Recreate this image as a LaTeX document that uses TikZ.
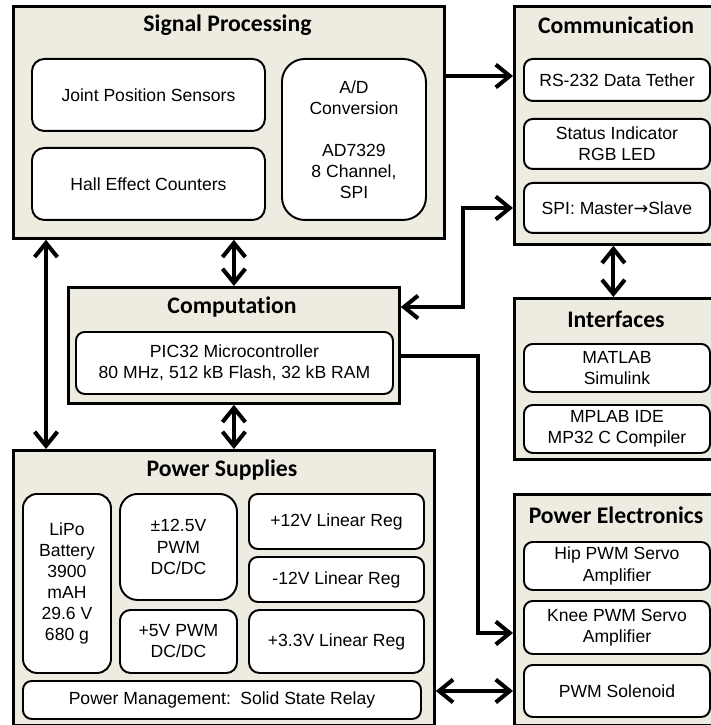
\documentclass[tikz,border=0pt]{standalone}
\usepackage{fontspec}
\setmainfont{Liberation Sans}
\newfontfamily\headfont{Carlito}[Ligatures=NoCommon]
\newfontfamily\arrowfont{DejaVu Sans}
\definecolor{paneltan}{RGB}{238,236,225}
\usetikzlibrary{arrows.meta}
\usetikzlibrary{calc}
\tikzset{
  panel/.style={draw, line width=1.6pt, fill=paneltan, anchor=north west, inner sep=0pt},
  part/.style={draw, line width=1.1pt, fill=white, rounded corners=5pt, anchor=north west,
    align=center, inner sep=0pt, font=\fontsize{10}{12}\selectfont},
  heading/.style={font=\headfont\bfseries\fontsize{13.5}{16}\selectfont},
  barb/.tip={Straight Barb[length=8pt,width=13pt]},
  link/.style={line width=2.3pt, -barb},
  dlink/.style={line width=2.3pt, barb-barb}
}
\begin{document}
\begin{tikzpicture}
  \useasboundingbox (0,0) rectangle (14.2,-14.5);

  % panels
  \node [panel, minimum width=8.62cm, minimum height=4.64cm] (sig) at (0.24,-0.10) {};
  \node [panel, minimum width=3.96cm, minimum height=4.76cm] (com) at (10.26,-0.10) {};
  \node [panel, minimum width=3.96cm, minimum height=3.22cm] (intf) at (10.26,-5.94) {};
  \node [panel, minimum width=6.62cm, minimum height=2.32cm] (comp) at (1.34,-5.72) {};
  \node [panel, minimum width=8.42cm, minimum height=5.50cm] (pow) at (0.24,-8.98) {};
  \node [panel, minimum width=3.96cm, minimum height=4.62cm] (pel) at (10.26,-9.86) {};

  % headings
  \node [heading] (sigtitle) at (4.55,-0.50) {Signal Processing};
  \node [heading] (comtitle) at (12.32,-0.50) {Communication};
  \node [heading] (intftitle) at (12.32,-6.38) {Interfaces};
  \node [heading] (comptitle) at (4.64,-6.14) {Computation};
  \node [heading] (powtitle) at (4.44,-9.40) {Power Supplies};
  \node [heading] (peltitle) at (12.32,-10.30) {Power Electronics};

  % signal processing
  \node [part, rounded corners=7pt, minimum width=4.66cm, minimum height=1.44cm] (jps) at (0.62,-1.16) {Joint Position Sensors};
  \node [part, rounded corners=7pt, minimum width=4.66cm, minimum height=1.44cm] (hall) at (0.62,-2.94) {Hall Effect Counters};
  \node [part, rounded corners=13pt, minimum width=2.88cm, minimum height=3.22cm] (adc) at (5.62,-1.16) {A/D\\Conversion\\[12pt]AD7329\\8 Channel,\\SPI};

  % communication
  \node [part, minimum width=3.72cm, minimum height=0.84cm] (rs232) at (10.46,-1.16) {RS-232 Data Tether};
  \node [part, minimum width=3.72cm, minimum height=1.00cm] (status) at (10.46,-2.36) {Status Indicator\\RGB LED};
  \node [part, minimum width=3.72cm, minimum height=1.00cm] (spi) at (10.46,-3.64) {SPI: Master{\arrowfont →}Slave};

  % interfaces
  \node [part, minimum width=3.72cm, minimum height=0.96cm] (matlab) at (10.46,-6.86) {MATLAB\\Simulink};
  \node [part, minimum width=3.72cm, minimum height=0.96cm] (mplab) at (10.46,-8.08) {MPLAB IDE\\MP32 C Compiler};

  % computation
  \node [part, minimum width=6.34cm, minimum height=1.24cm] (pic) at (1.50,-6.62) {PIC32 Microcontroller\\80 MHz, 512 kB Flash, 32 kB RAM};

  % power supplies
  \node [part, rounded corners=8pt, minimum width=1.76cm, minimum height=3.58cm] (lipo) at (0.44,-9.86) {LiPo\\Battery\\3900\\mAH\\29.6 V\\680 g};
  \node [part, rounded corners=10pt, minimum width=2.34cm, minimum height=2.12cm] (dcdc) at (2.38,-9.86) {±12.5V\\PWM\\DC/DC};
  \node [part, rounded corners=6pt, minimum width=2.34cm, minimum height=1.26cm] (fivev) at (2.38,-12.18) {+5V PWM\\DC/DC};
  \node [part, minimum width=3.50cm, minimum height=1.10cm] (p12) at (4.96,-9.86) {+12V Linear Reg};
  \node [part, minimum width=3.50cm, minimum height=0.90cm] (m12) at (4.96,-11.12) {-12V Linear Reg};
  \node [part, rounded corners=6pt, minimum width=3.50cm, minimum height=1.26cm] (p33) at (4.96,-12.18) {+3.3V Linear Reg};
  \node [part, minimum width=7.96cm, minimum height=0.76cm] (pmgmt) at (0.44,-13.60) {Power Management:\, Solid State Relay};

  % power electronics
  \node [part, minimum width=3.72cm, minimum height=0.96cm] (hip) at (10.46,-10.82) {Hip PWM Servo\\Amplifier};
  \node [part, minimum width=3.72cm, minimum height=1.06cm] (knee) at (10.46,-12.00) {Knee PWM Servo\\Amplifier};
  \node [part, minimum width=3.72cm, minimum height=1.04cm] (sol) at (10.46,-13.28) {PWM Solenoid};

  % links
  \draw [link] (sig.east |- 0,-1.52) -- (com.west |- 0,-1.52);
  \draw [dlink] (com.west |- spi) -- ++(-1.0,0) |- (comp.east |- comptitle);
  \draw [link] (comp.east |- 0,-7.12) -- ++(1.54,0) |- (pel.west |- 0,-12.66);
  \draw [dlink] (pow.east |- sol) -- (pel.west |- sol);
  \draw [dlink] (comp.north |- sig.south) -- (comp.north);
  \draw [dlink] (comp.south) -- (comp.south |- pow.north);
  \draw [dlink] ([xshift=0.68cm]sig.south west) -- ([xshift=0.68cm]pow.north west);
  \draw [dlink] (com.south) -- (intf.north);

\end{tikzpicture}
\end{document}
